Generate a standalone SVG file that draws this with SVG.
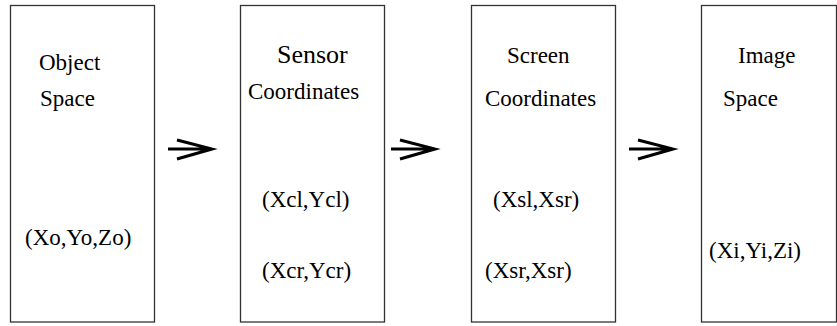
<svg xmlns="http://www.w3.org/2000/svg" xmlns:xlink="http://www.w3.org/1999/xlink" width="837" height="326" viewBox="0 0 837 326">
<style>
.box{fill:#fff;stroke:#333;stroke-width:1.3}
text{font-family:'Liberation Serif','DejaVu Serif',serif;font-size:23px;fill:#000}
text.big{font-size:26px}
.arr{fill:none;stroke:#000;stroke-width:3;stroke-linecap:butt;stroke-linejoin:miter}
</style>
<defs>
<path id="arrow" class="arr" d="M0,0 H44 M9,-9 L44,0 L9,10"/>
</defs>
<rect width="837" height="326" fill="#fff"/>
<g id="object-space" font-family="Liberation Serif, serif">
<rect class="box" x="10.5" y="5.5" width="144" height="316.5"/>
<text x="39" y="70">Object</text>
<text x="40" y="106">Space</text>
<text x="25" y="245">(Xo,Yo,Zo)</text>
</g>
<g id="sensor-coordinates">
<rect class="box" x="240.5" y="5.5" width="144" height="316.5"/>
<text class="big" x="277" y="63">Sensor</text>
<text x="248" y="99">Coordinates</text>
<text x="262" y="207">(Xcl,Ycl)</text>
<text x="262" y="278">(Xcr,Ycr)</text>
</g>
<g id="screen-coordinates">
<rect class="box" x="471.5" y="5.5" width="144" height="316.5"/>
<text x="507" y="63">Screen</text>
<text x="485" y="106">Coordinates</text>
<text x="493" y="207">(Xsl,Xsr)</text>
<text x="485" y="278">(Xsr,Xsr)</text>
</g>
<g id="image-space">
<rect class="box" x="701.5" y="5.5" width="135" height="316.5"/>
<text x="738" y="63">Image</text>
<text x="723" y="106">Space</text>
<text x="709" y="258">(Xi,Yi,Zi)</text>
</g>
<g id="connectors">
<use xlink:href="#arrow" x="168" y="149"/>
<use xlink:href="#arrow" x="391" y="149"/>
<use xlink:href="#arrow" x="629" y="149"/>
</g>
</svg>
